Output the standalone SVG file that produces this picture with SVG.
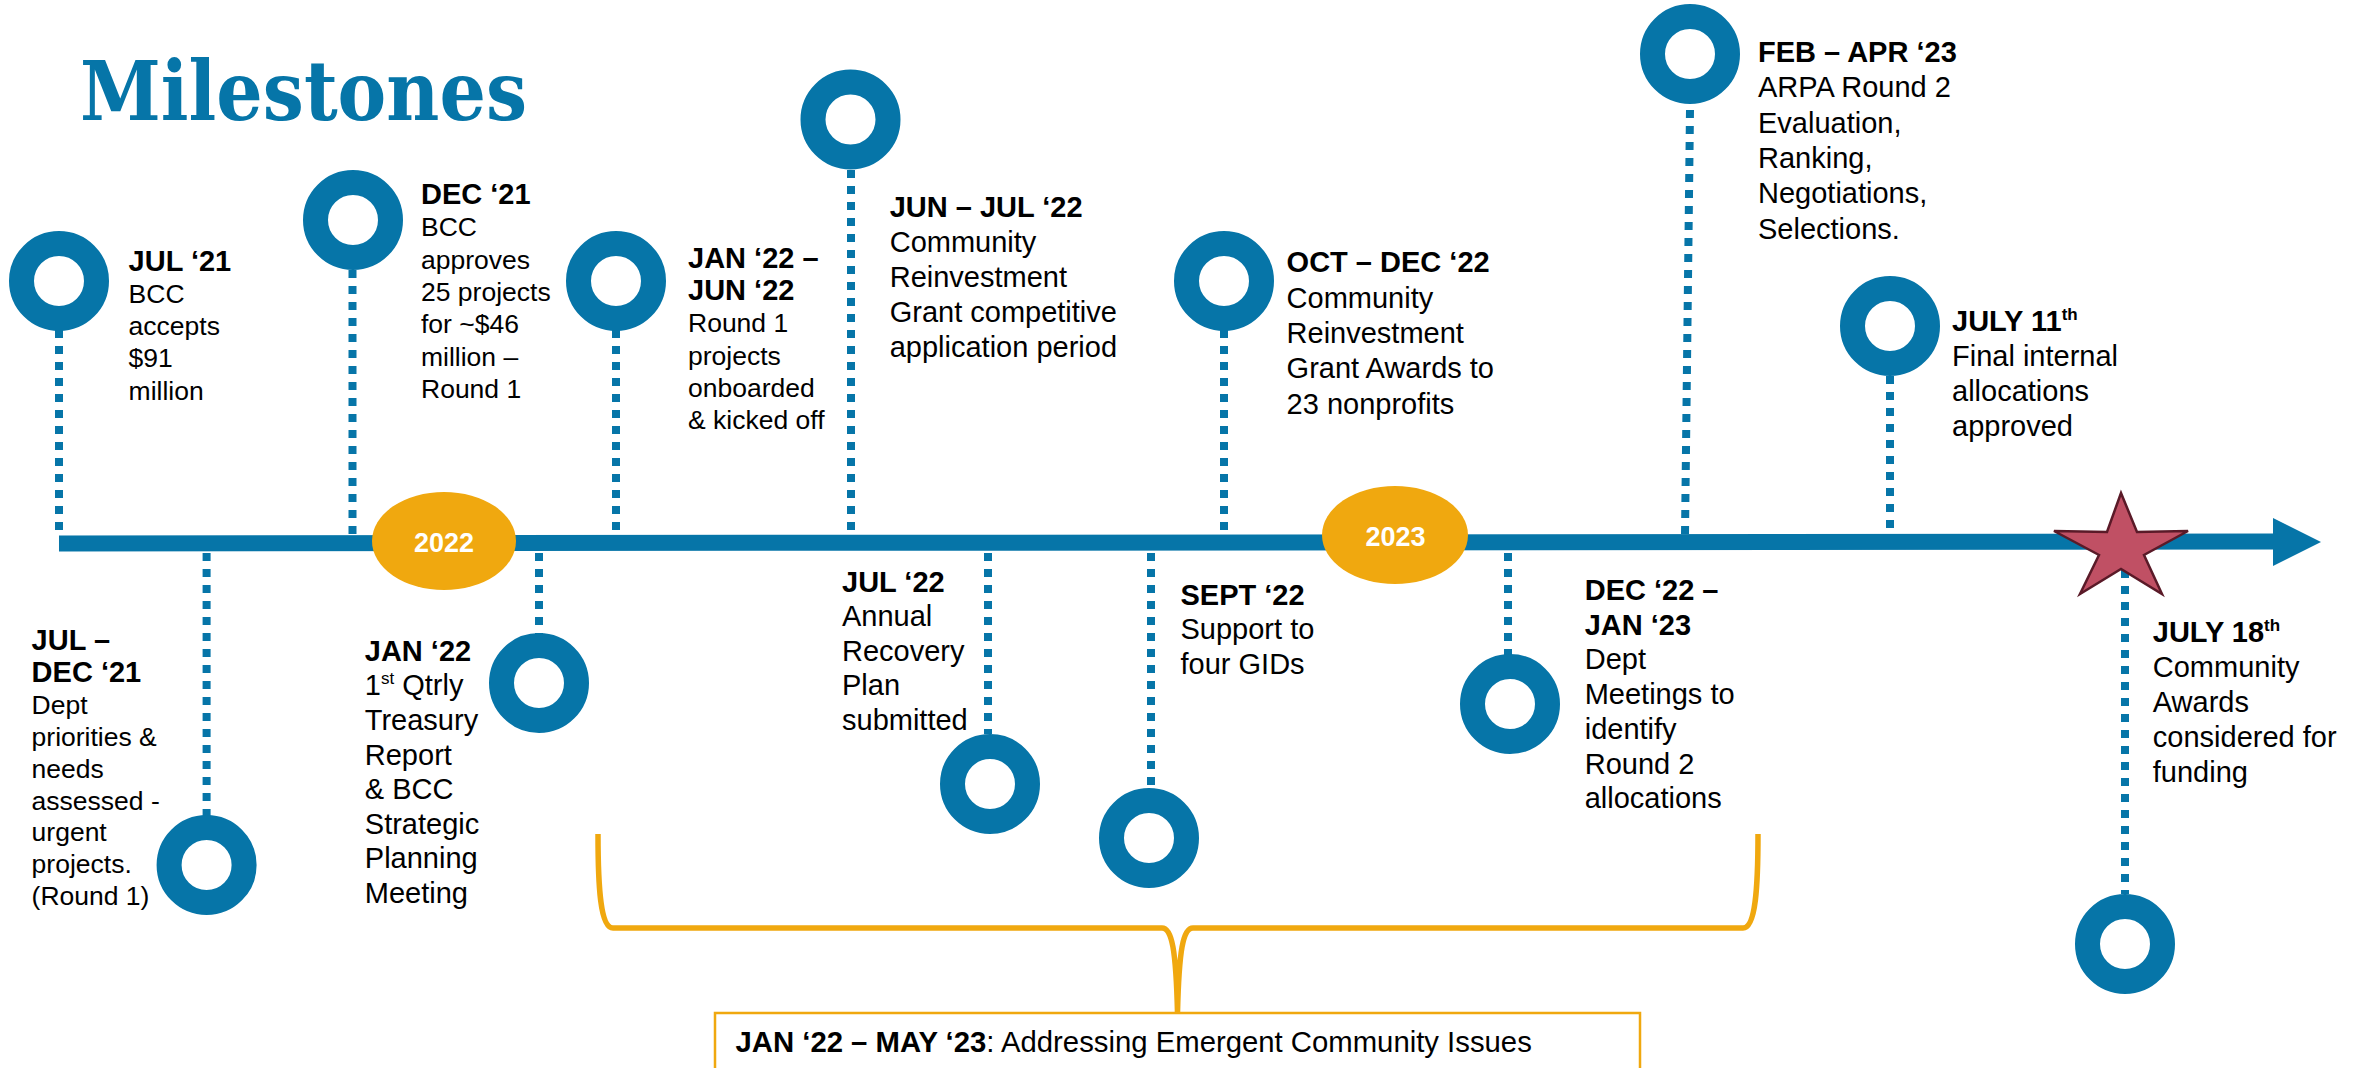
<svg xmlns="http://www.w3.org/2000/svg" width="2366" height="1068" viewBox="0 0 2366 1068">
<style>
text{font-family:"Liberation Sans",Arial,sans-serif;fill:#000}
.h{font-weight:bold;font-size:29px}
.b{font-size:29px}
.s{font-size:26.5px}
.ring{fill:#fff;stroke:#0675A8;stroke-width:25}
.stem{stroke:#0675A8;stroke-width:8;stroke-dasharray:8 8;fill:none}
.yr{fill:#F0A80F}
.yt{font-weight:bold;font-size:27px;fill:#fff;text-anchor:middle}
.sup{font-size:17px}
</style>
<rect width="2366" height="1068" fill="#fff"/>
<text id="title" x="80" y="120" font-family="'DejaVu Serif',serif" font-weight="bold" font-size="82" fill="#0675A8" style="font-family:'DejaVu Serif',serif;fill:#0675A8" textLength="447" lengthAdjust="spacingAndGlyphs">Milestones</text>

<g id="connectors">
<line class="stem" x1="59" y1="330" x2="59" y2="536"/>
<line class="stem" x1="352.5" y1="270" x2="352.5" y2="536"/>
<line class="stem" x1="616" y1="330" x2="616" y2="536"/>
<line class="stem" x1="851" y1="170" x2="851" y2="536"/>
<line class="stem" x1="1224" y1="330" x2="1224" y2="536"/>
<line class="stem" x1="1690" y1="110" x2="1685" y2="534"/>
<line class="stem" x1="1890" y1="376" x2="1890" y2="534"/>
<line class="stem" x1="206.6" y1="553" x2="206.6" y2="816"/>
<line class="stem" x1="539" y1="553" x2="539" y2="634"/>
<line class="stem" x1="988" y1="553" x2="988" y2="734"/>
<line class="stem" x1="1151" y1="553" x2="1151" y2="788"/>
<line class="stem" x1="1508" y1="553" x2="1508" y2="655"/>
<line class="stem" x1="2125" y1="570" x2="2125" y2="894"/>
</g>

<g id="axis">
<line x1="59" y1="543.5" x2="2275" y2="541.5" stroke="#0675A8" stroke-width="16"/>
<polygon points="2273,518 2321,542 2273,566" fill="#0675A8"/>
</g>

<g id="year-2022"><ellipse class="yr" cx="444" cy="541" rx="72" ry="49"/><text class="yt" x="444" y="552">2022</text></g>
<g id="year-2023"><ellipse class="yr" cx="1395" cy="535" rx="73" ry="49"/><text class="yt" x="1395.6" y="546">2023</text></g>

<g id="star"><path d="M2121,493 L2137,532 L2188,531 L2144,555 L2162,594 L2121,569 L2080,594 L2099,555 L2054,531 L2107,532 Z" fill="#C05064" stroke="#5A1A28" stroke-width="2.5" stroke-linejoin="miter"/></g>

<g id="n-jul21">
<circle class="ring" cx="59" cy="281" r="37.5"/>
<text class="h" x="128.6" y="270.7">JUL ‘21</text>
<text class="s" x="128.6" y="303">BCC</text>
<text class="s" x="128.6" y="335.2">accepts</text>
<text class="s" x="128.6" y="367.4">$91</text>
<text class="s" x="128.6" y="399.6">million</text>
</g>

<g id="n-dec21">
<circle class="ring" cx="353" cy="220" r="37.5"/>
<text class="h" x="421" y="204">DEC ‘21</text>
<text class="s" x="421" y="236.3">BCC</text>
<text class="s" x="421" y="268.6">approves</text>
<text class="s" x="421" y="300.9">25 projects</text>
<text class="s" x="421" y="333.2">for ~$46</text>
<text class="s" x="421" y="365.5">million –</text>
<text class="s" x="421" y="397.8">Round 1</text>
</g>

<g id="n-jan22-jun22">
<circle class="ring" cx="616" cy="281" r="37.5"/>
<text class="h" x="688" y="268">JAN ‘22 –</text>
<text class="h" x="688" y="300.2">JUN ‘22</text>
<text class="s" x="688" y="332.4">Round 1</text>
<text class="s" x="688" y="364.6">projects</text>
<text class="s" x="688" y="396.8">onboarded</text>
<text class="s" x="688" y="429">&amp; kicked off</text>
</g>

<g id="n-jun-jul22">
<circle class="ring" cx="850.5" cy="119.5" r="37.5"/>
<text class="h" x="889.7" y="217">JUN – JUL ‘22</text>
<text class="b" x="889.7" y="252">Community</text>
<text class="b" x="889.7" y="287">Reinvestment</text>
<text class="b" x="889.7" y="322">Grant competitive</text>
<text class="b" x="889.7" y="357">application period</text>
</g>

<g id="n-oct-dec22">
<circle class="ring" cx="1224" cy="281" r="37.5"/>
<text class="h" x="1286.6" y="272.4">OCT – DEC ‘22</text>
<text class="b" x="1286.6" y="307.7">Community</text>
<text class="b" x="1286.6" y="343">Reinvestment</text>
<text class="b" x="1286.6" y="378.3">Grant Awards to</text>
<text class="b" x="1286.6" y="413.6">23 nonprofits</text>
</g>

<g id="n-feb-apr23">
<circle class="ring" cx="1690" cy="54" r="37.5"/>
<text class="h" x="1758" y="62">FEB – APR ‘23</text>
<text class="b" x="1758" y="97.3">ARPA Round 2</text>
<text class="b" x="1758" y="132.6">Evaluation,</text>
<text class="b" x="1758" y="167.9">Ranking,</text>
<text class="b" x="1758" y="203.2">Negotiations,</text>
<text class="b" x="1758" y="238.5">Selections.</text>
</g>

<g id="n-jul11">
<circle class="ring" cx="1890" cy="326" r="37.5"/>
<text class="h" x="1952" y="331">JULY 11<tspan class="sup" dy="-11">th</tspan></text>
<text class="b" x="1952" y="366">Final internal</text>
<text class="b" x="1952" y="401">allocations</text>
<text class="b" x="1952" y="436">approved</text>
</g>

<g id="n-jul-dec21">
<circle class="ring" cx="206.6" cy="865" r="37.5"/>
<text class="h" x="31.6" y="650">JUL –</text>
<text class="h" x="31.6" y="681.9">DEC ‘21</text>
<text class="s" x="31.6" y="713.8">Dept</text>
<text class="s" x="31.6" y="745.7">priorities &amp;</text>
<text class="s" x="31.6" y="777.6">needs</text>
<text class="s" x="31.6" y="809.5">assessed -</text>
<text class="s" x="31.6" y="841.4">urgent</text>
<text class="s" x="31.6" y="873.3">projects.</text>
<text class="s" x="31.6" y="905.2">(Round 1)</text>
</g>

<g id="n-jan22">
<circle class="ring" cx="539" cy="683" r="37.5"/>
<text class="h" x="364.8" y="660.7">JAN ‘22</text>
<text class="b" x="364.8" y="695.3">1<tspan class="sup" dy="-11">st</tspan><tspan dy="11"> Qtrly</tspan></text>
<text class="b" x="364.8" y="729.9">Treasury</text>
<text class="b" x="364.8" y="764.5">Report</text>
<text class="b" x="364.8" y="799.1">&amp; BCC</text>
<text class="b" x="364.8" y="833.7">Strategic</text>
<text class="b" x="364.8" y="868.3">Planning</text>
<text class="b" x="364.8" y="902.9">Meeting</text>
</g>

<g id="n-jul22">
<circle class="ring" cx="990" cy="784" r="37.5"/>
<text class="h" x="842" y="591.7">JUL ‘22</text>
<text class="b" x="842" y="626.2">Annual</text>
<text class="b" x="842" y="660.7">Recovery</text>
<text class="b" x="842" y="695.2">Plan</text>
<text class="b" x="842" y="729.7">submitted</text>
</g>

<g id="n-sept22">
<circle class="ring" cx="1149" cy="838" r="37.5"/>
<text class="h" x="1180.5" y="604.5">SEPT ‘22</text>
<text class="b" x="1180.5" y="639">Support to</text>
<text class="b" x="1180.5" y="673.5">four GIDs</text>
</g>

<g id="n-dec22-jan23">
<circle class="ring" cx="1510" cy="704" r="37.5"/>
<text class="h" x="1584.7" y="600">DEC ‘22 –</text>
<text class="h" x="1584.7" y="634.7">JAN ‘23</text>
<text class="b" x="1584.7" y="669.4">Dept</text>
<text class="b" x="1584.7" y="704.1">Meetings to</text>
<text class="b" x="1584.7" y="738.8">identify</text>
<text class="b" x="1584.7" y="773.5">Round 2</text>
<text class="b" x="1584.7" y="808.2">allocations</text>
</g>

<g id="n-jul18">
<circle class="ring" cx="2125" cy="944" r="37.5"/>
<text class="h" x="2152.8" y="642.4">JULY 18<tspan class="sup" dy="-11">th</tspan></text>
<text class="b" x="2152.8" y="677.4">Community</text>
<text class="b" x="2152.8" y="712.4">Awards</text>
<text class="b" x="2152.8" y="747.4">considered for</text>
<text class="b" x="2152.8" y="782.4">funding</text>
</g>

<g id="bracket">
<path d="M598,834 C598,885 600,928 613,928 L1162,928 C1172,928 1176,950 1177.5,1013 C1179,950 1183,928 1193,928 L1743,928 C1756,928 1758,885 1758,834" fill="none" stroke="#F0A80F" stroke-width="5.5"/>
</g>

<g id="summary">
<rect x="715" y="1013" width="925" height="70" fill="#fff" stroke="#F0A80F" stroke-width="2.5"/>
<text x="735.5" y="1051.7" style="font-size:29.3px"><tspan font-weight="bold">JAN ‘22 – MAY ‘23</tspan>: Addressing Emergent Community Issues</text>
</g>
</svg>
